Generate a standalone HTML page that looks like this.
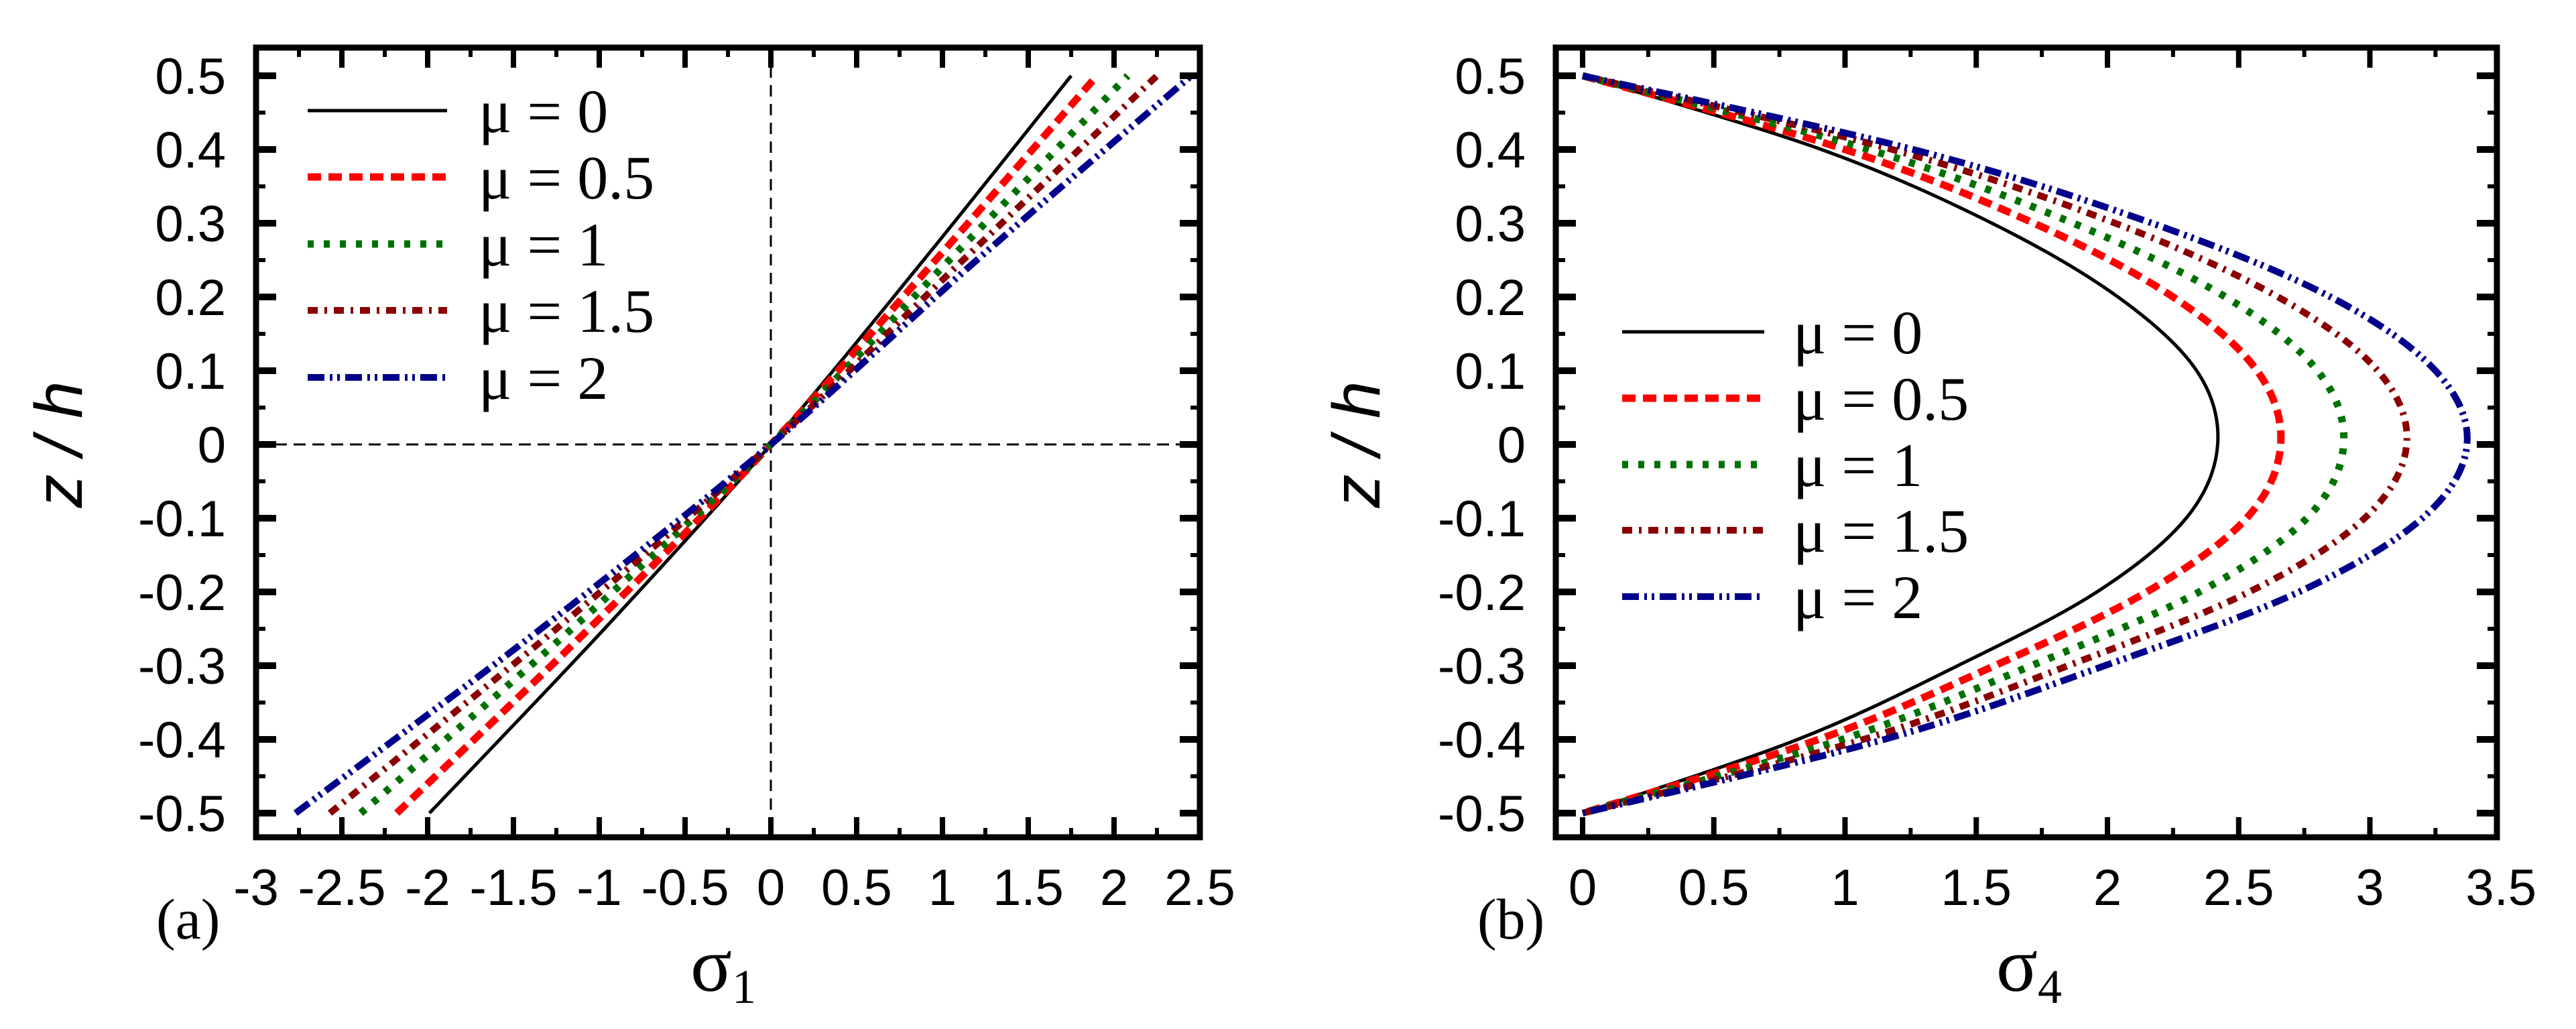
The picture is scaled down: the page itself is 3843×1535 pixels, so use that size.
<!DOCTYPE html>
<html><head><meta charset="utf-8"><style>
html,body{margin:0;padding:0;background:#fff;}
svg{display:block;}
.tk{font-family:"Liberation Sans",Arial,sans-serif;font-size:76px;fill:#000;}
.lg{font-family:"Liberation Serif","Times New Roman",serif;font-size:92px;fill:#000;}
</style></head><body>
<svg id="fig" width="3843" height="1535" viewBox="0 0 3843 1535" xmlns="http://www.w3.org/2000/svg">
<rect width="3843" height="1535" fill="#fff"/>
</svg>
<script>
// ---- data ----
const zA = [-0.5, -0.25, 0, 0.25, 0.5];
const sigma1_mu0   = [-1.99, -0.97, 0, 0.89, 1.75];
const sigma1_mu05  = [-2.18, -1.06, 0, 0.96, 1.90];
const sigma1_mu1   = [-2.39, -1.16, 0, 1.04, 2.08];
const sigma1_mu15  = [-2.57, -1.25, 0, 1.12, 2.25];
const sigma1_mu2   = [-2.77, -1.34, 0, 1.20, 2.45];
const zB = [0.5, 0.4, 0.3, 0.2, 0.1, 0, -0.1, -0.2, -0.3, -0.4, -0.5];
const sigma4_mu0  = [0, 0.91, 1.56, 2.04, 2.34, 2.42, 2.30, 1.96, 1.43, 0.82, 0];
const sigma4_mu05 = [0, 1.00, 1.72, 2.25, 2.57, 2.66, 2.53, 2.15, 1.57, 0.90, 0];
const sigma4_mu1  = [0, 1.09, 1.87, 2.45, 2.80, 2.90, 2.76, 2.35, 1.71, 0.99, 0];
const sigma4_mu15 = [0, 1.18, 2.03, 2.65, 3.03, 3.14, 2.98, 2.54, 1.85, 1.07, 0];
const sigma4_mu2  = [0, 1.26, 2.17, 2.85, 3.25, 3.37, 3.20, 2.73, 1.99, 1.15, 0];
const legendLabels = ["μ = 0", "μ = 0.5", "μ = 1", "μ = 1.5", "μ = 2"];
const xTicksA = ["-3","-2.5","-2","-1.5","-1","-0.5","0","0.5","1","1.5","2","2.5"];
const xTicksB = ["0","0.5","1","1.5","2","2.5","3","3.5"];
const yTicks = ["0.5","0.4","0.3","0.2","0.1","0","-0.1","-0.2","-0.3","-0.4","-0.5"];

// ---- styles ----
const styles = [
  {c:"#000000", w:5,  d:""},
  {c:"#ff0000", w:11, d:"20 11"},
  {c:"#007000", w:11, d:"9 15"},
  {c:"#8b0000", w:10, d:"15 10 4 10"},
  {c:"#00008b", w:10, d:"25 8 4 7 4 8"}
];
const NS = "http://www.w3.org/2000/svg";
const svg = document.getElementById("fig");
function mk(tag, attrs, parent){
  const e = document.createElementNS(NS, tag);
  for (const k in attrs) e.setAttribute(k, attrs[k]);
  (parent||svg).appendChild(e);
  return e;
}
const yPix = z => 663 - z*1100;
const panels = {
  a:{x0:382, x1:1790, sx: s => 1150 + s*256, xt:xTicksA, xmin:-3, xmax:2.5},
  b:{x0:2321, x1:3725, sx: s => 2361 + s*391.5, xt:xTicksB, xmin:0, xmax:3.5}
};
const TOP=71, BOT=1249;

function crPath(pts){
  let d = "M"+pts[0][0].toFixed(1)+","+pts[0][1].toFixed(1);
  for (let i=0;i<pts.length-1;i++){
    const p0=pts[Math.max(0,i-1)], p1=pts[i], p2=pts[i+1], p3=pts[Math.min(pts.length-1,i+2)];
    const c1=[p1[0]+(p2[0]-p0[0])/6, p1[1]+(p2[1]-p0[1])/6];
    const c2=[p2[0]-(p3[0]-p1[0])/6, p2[1]-(p3[1]-p1[1])/6];
    d += " C"+c1[0].toFixed(1)+","+c1[1].toFixed(1)+" "+c2[0].toFixed(1)+","+c2[1].toFixed(1)+" "+p2[0].toFixed(1)+","+p2[1].toFixed(1);
  }
  return d;
}

function drawAxes(key, P){
  const g = mk("g", {});
  
  
  for (let v = P.xmin; v <= P.xmax + 1e-9; v += 0.25){
    const major = Math.abs(v*2 - Math.round(v*2)) < 1e-6;
    const L = major ? 30 : 14, W = major ? 8 : 6;
    const x = P.sx(v);
    if (x < P.x0 + 2 || x > P.x1 - 2) continue;
    mk("line", {x1:x, y1:BOT, x2:x, y2:BOT-L, stroke:"#000", "stroke-width":W}, g);
    mk("line", {x1:x, y1:TOP, x2:x, y2:TOP+L, stroke:"#000", "stroke-width":W}, g);
  }
  for (let i = -10; i <= 10; i++){
    const z = i*0.05, major = i%2===0;
    const L = major ? 30 : 14, W = major ? 10 : 6;
    const y = yPix(z);
    mk("line", {x1:P.x0, y1:y, x2:P.x0+L, y2:y, stroke:"#000", "stroke-width":W}, g);
    mk("line", {x1:P.x1, y1:y, x2:P.x1-L, y2:y, stroke:"#000", "stroke-width":W}, g);
  }
  const fr = mk("rect", {x:P.x0, y:TOP, width:P.x1-P.x0, height:BOT-TOP, fill:"none", stroke:"#000", "stroke-width":9}, g);
  
  
  P.xt.forEach((t,i) => {
    const v = P.xmin + i*0.5;
    const tx = mk("text", {x:P.sx(v), y:1350, "text-anchor":"middle", class:"tk"}, g);
    tx.textContent = t;
    
    
  });
  yTicks.forEach((t,i) => {
    const z = 0.5 - i*0.1;
    const ty = mk("text", {x:P.x0-45, y:yPix(z)+27, "text-anchor":"end", class:"tk"}, g);
    ty.textContent = t;
    
    
  });
}

function drawLegend(key, lx0, lx1, tx, rows){
  const g = mk("g", {});
  
  
  legendLabels.forEach((lab,i) => {
    const s = styles[i], y = rows[i];
    const ln = mk("line", {x1:lx0, y1:y, x2:lx1, y2:y, stroke:s.c, "stroke-width":s.w, "stroke-dasharray":s.d}, g);
    
    
    const t = mk("text", {x:tx, y:y+32, class:"lg"}, g);
    t.textContent = lab;
    
    
  });
}

const defs = mk("defs", {});
["a","b"].forEach(k => {
  const cp = mk("clipPath", {id:"clip-"+k}, defs);
  mk("rect", {x:panels[k].x0, y:TOP-10, width:panels[k].x1-panels[k].x0, height:BOT-TOP+20}, cp);
});

// ---- panel a ----
const A = panels.a;
const zl = mk("line", {x1:A.x0, y1:yPix(0), x2:A.x1, y2:yPix(0), stroke:"#000", "stroke-width":3, "stroke-dasharray":"18 10"});


const zv = mk("line", {x1:A.sx(0), y1:TOP, x2:A.sx(0), y2:BOT, stroke:"#000", "stroke-width":3, "stroke-dasharray":"17 11"});


const seriesA = [sigma1_mu0, sigma1_mu05, sigma1_mu1, sigma1_mu15, sigma1_mu2];
const gA = mk("g", {"clip-path":"url(#clip-a)"});
seriesA.forEach((arr, si) => {
  const pts = arr.map((s,i) => [A.sx(s), yPix(zA[i])]);
  const p = mk("path", {d:crPath(pts), fill:"none", stroke:styles[si].c, "stroke-width":styles[si].w, "stroke-dasharray":styles[si].d}, gA);
  
  
});
drawAxes("a", A);
drawLegend("a", 459, 667, 714, [165, 264, 364, 463, 563]);

// ---- panel b ----
const B = panels.b;
const seriesB = [sigma4_mu0, sigma4_mu05, sigma4_mu1, sigma4_mu15, sigma4_mu2];
const gB = mk("g", {"clip-path":"url(#clip-b)"});
seriesB.forEach((arr, si) => {
  const pts = arr.map((s,i) => [B.sx(s), yPix(zB[i])]);
  const p = mk("path", {d:crPath(pts), fill:"none", stroke:styles[si].c, "stroke-width":styles[si].w, "stroke-dasharray":styles[si].d}, gB);
  
  
});
drawAxes("b", B);
drawLegend("b", 2420, 2632, 2675, [495, 594, 693, 791, 890]);
</script>
<div style="position:absolute;left:0;top:0;width:3843px;height:1535px;pointer-events:none;">
<svg width="3843" height="1535" style="position:absolute;left:0;top:0">
  <text x="233" y="1400" font-family="Liberation Serif, serif" font-size="86">(a)</text>
  <text x="2204" y="1400" font-family="Liberation Serif, serif" font-size="86">(b)</text>
  <text x="1030" y="1478" font-family="Liberation Serif, serif" font-size="115">σ<tspan font-size="72" dy="18">1</tspan></text>
  <text x="2978" y="1478" font-family="Liberation Serif, serif" font-size="115">σ<tspan font-size="72" dy="18">4</tspan></text>
  <text transform="translate(122,663) rotate(-90)" text-anchor="middle" font-family="Liberation Sans, sans-serif" font-style="italic" font-size="100">z / h</text>
  <text transform="translate(2058,663) rotate(-90)" text-anchor="middle" font-family="Liberation Sans, sans-serif" font-style="italic" font-size="100">z / h</text>
</svg>
</div>
</body></html>
